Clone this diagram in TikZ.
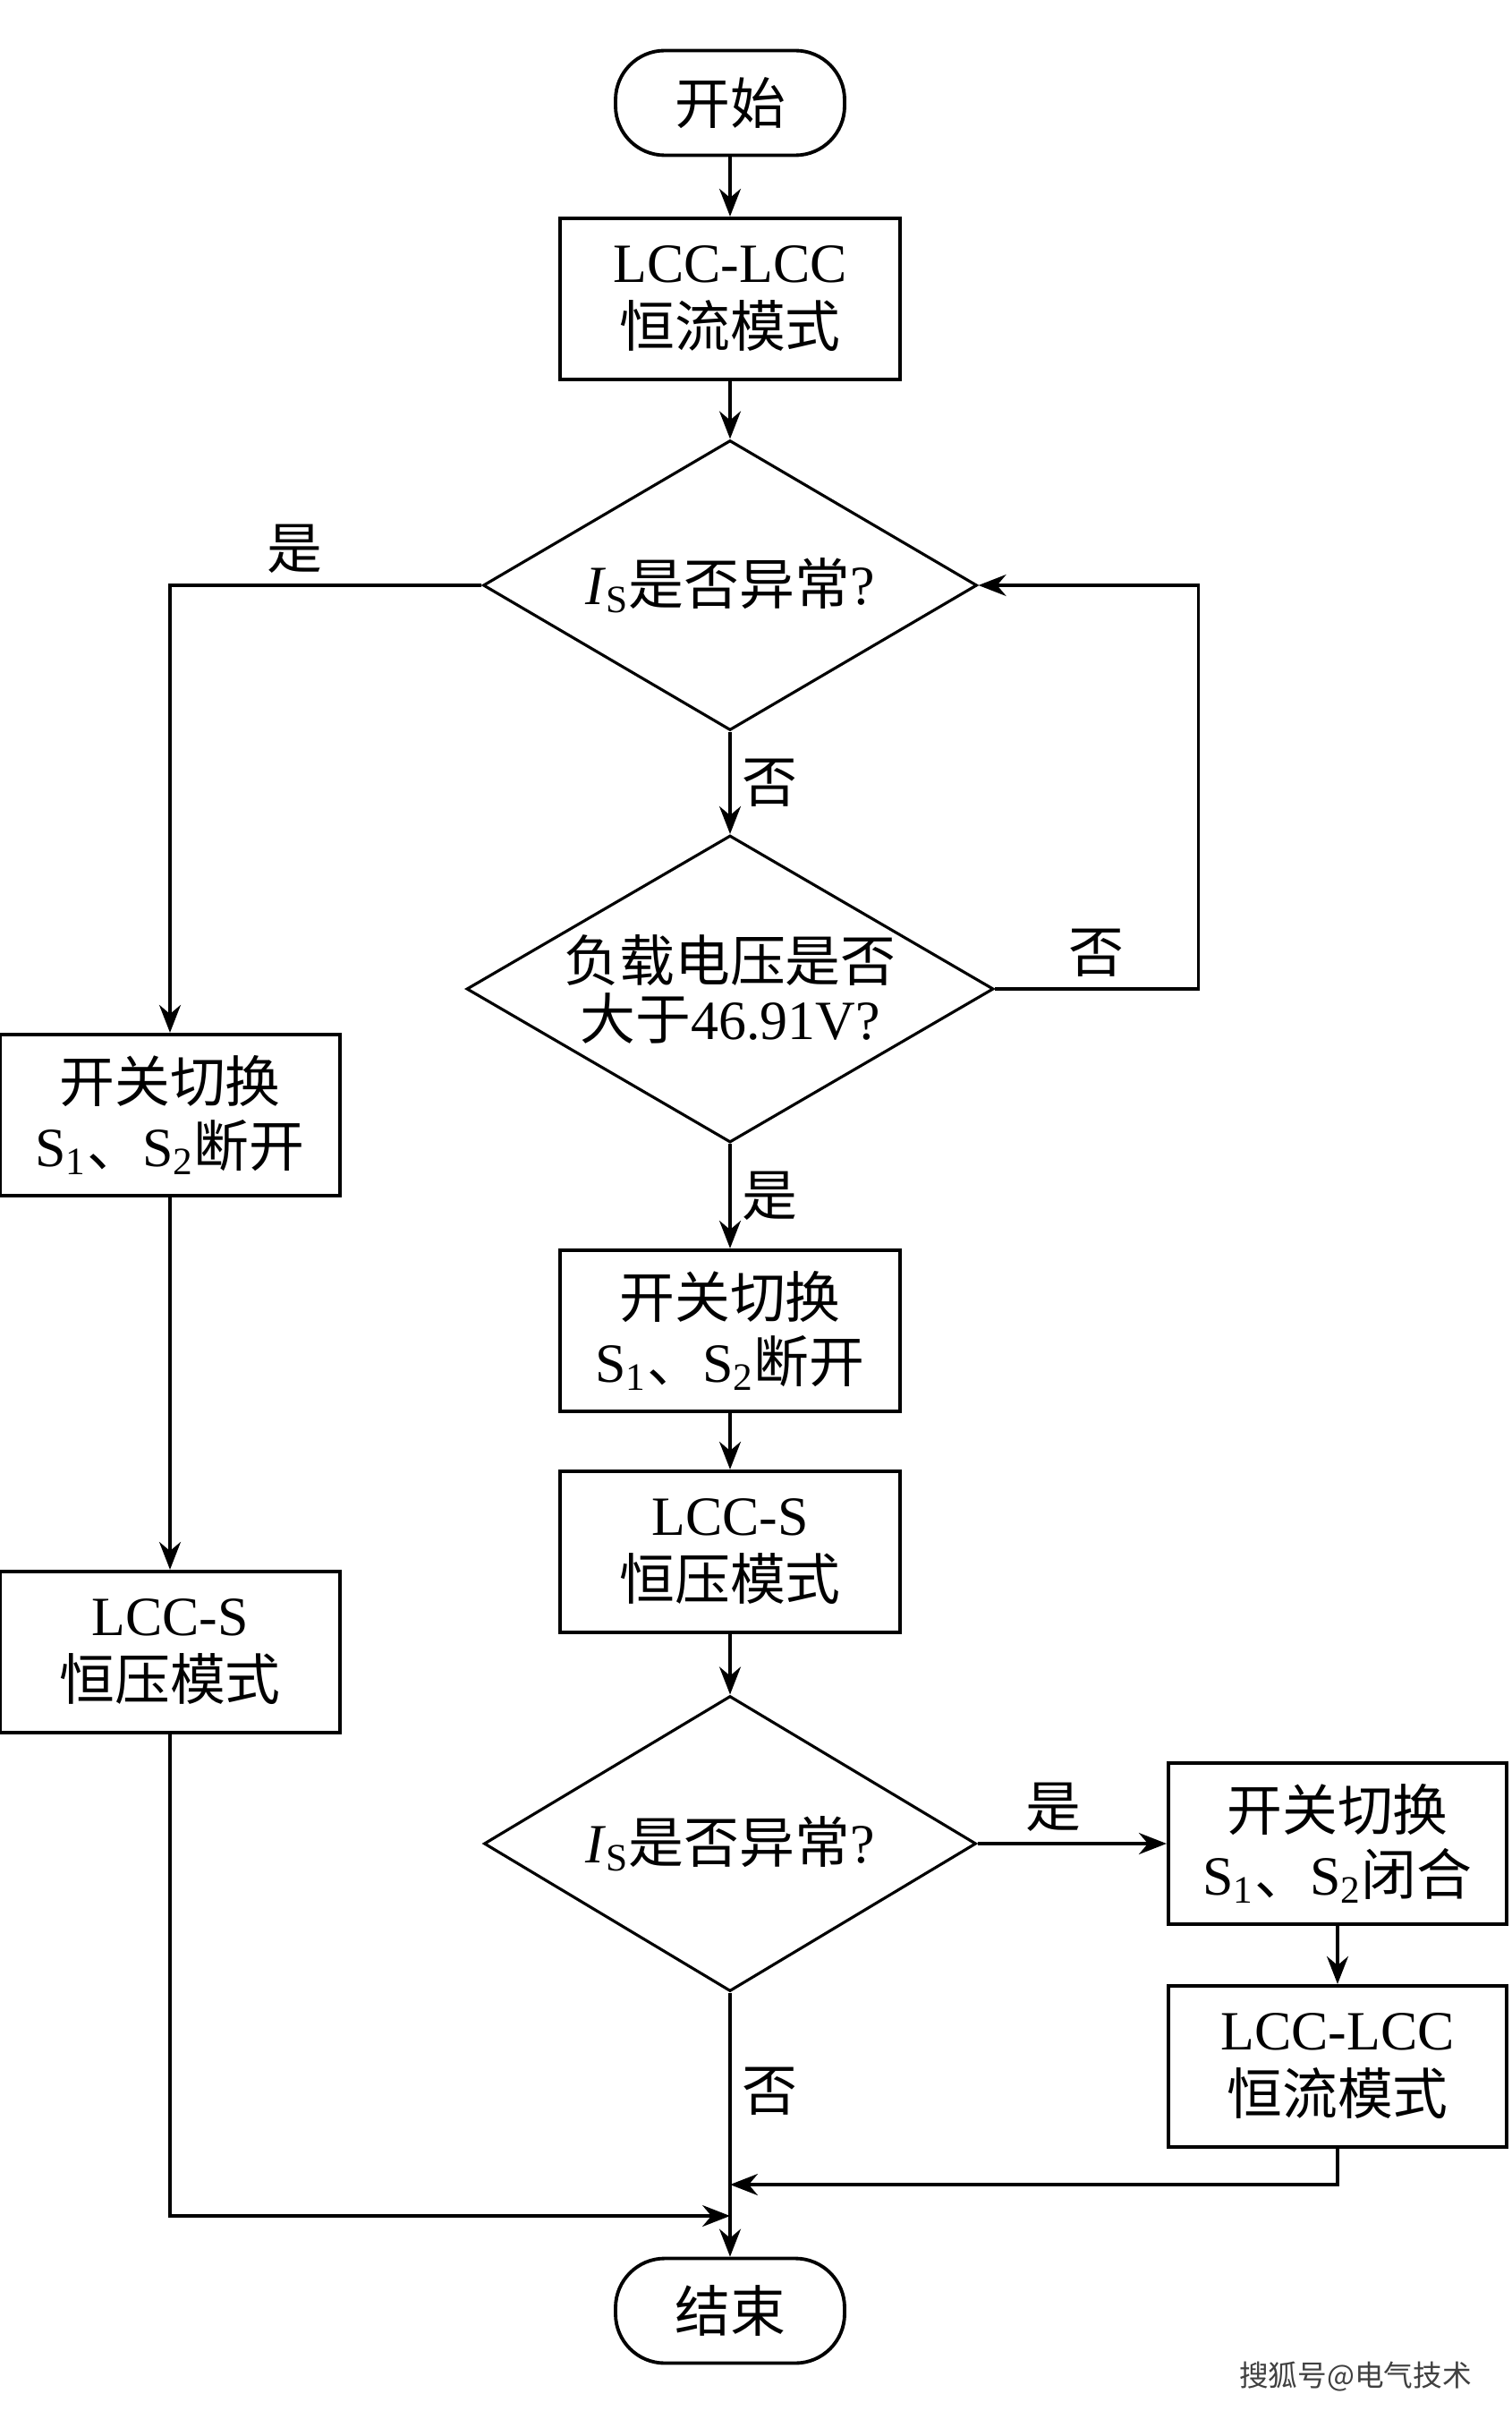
\documentclass[tikz,border=0pt]{standalone}
\usepackage{fontspec}
\setmainfont{Liberation Serif}
\newfontfamily\cjk{Noto Sans CJK SC}
\usepackage{tikz}
\usepackage{xcolor}
\usetikzlibrary{shapes, arrows, arrows.meta}

\begin{document}
\begin{tikzpicture}[node distance = 3cm, auto, font=\fontsize{17.6}{20.5}\selectfont]

\tikzstyle{startstop} = [rectangle, rounded corners=0.55cm, minimum width=2.56cm, minimum height=1.17cm, text centered, draw=black, line width=1.1pt]
\tikzstyle{process} = [rectangle, minimum width=3.8cm, minimum height=1.8cm, align=center, draw=black, line width=1.2pt]
\tikzstyle{decision} = [diamond, align=center, inner sep=0pt, draw=black, line width=0.9pt]
\tikzstyle{arrow} = [line width=0.9pt,->,>={Stealth[length=3.1mm,width=2.4mm]}]

\useasboundingbox (0,0) rectangle (16.89,-26.94);

\node (start) [startstop] at (8.16,-1.15) {\cjk 开始};
\node (lcc1) [process, below of=start, node distance=2.19cm] {LCC-LCC\\{\cjk 恒流模式}};
\node (dec1) [decision, below of=lcc1, node distance=3.20cm, minimum width=5.52cm, minimum height=3.24cm, shape aspect=1.7] {\textit{I}\textsubscript{S}{\cjk 是否异常}?};
\node (dec2) [decision, below of=dec1, node distance=4.51cm, minimum width=5.89cm, minimum height=3.43cm, shape aspect=1.72, font=\fontsize{17.6}{18.5}\selectfont] {{\cjk 负载电压是否}\\{\cjk 大于}46.91V?};
\node (sw1) [process, below of=dec2, node distance=3.82cm] {{\cjk 开关切换}\\S\textsubscript{1}{\cjk 、}S\textsubscript{2}{\cjk 断开}};
\node (lccs1) [process, below of=sw1, node distance=2.47cm] {LCC-S\\{\cjk 恒压模式}};
\node (dec3) [decision, below of=lccs1, node distance=3.26cm, minimum width=5.50cm, minimum height=3.30cm, shape aspect=1.67] {\textit{I}\textsubscript{S}{\cjk 是否异常}?};
\node (sw2) [process, right of=dec3, node distance=6.79cm, minimum width=3.78cm] {{\cjk 开关切换}\\S\textsubscript{1}{\cjk 、}S\textsubscript{2}{\cjk 闭合}};
\node (lcc2) [process, below of=sw2, node distance=2.49cm, minimum width=3.78cm] {LCC-LCC\\{\cjk 恒流模式}};
\node (end) [startstop, below of=dec3, node distance=5.22cm] {\cjk 结束};
\node (swl) [process, left of=dec1, node distance=6.26cm, yshift=-5.92cm] {{\cjk 开关切换}\\S\textsubscript{1}{\cjk 、}S\textsubscript{2}{\cjk 断开}};
\node (lccsl) [process, below of=swl, node distance=6.00cm] {LCC-S\\{\cjk 恒压模式}};

\coordinate (mergeA) at (8.16,-24.41);
\coordinate (mergeB) at (8.16,-24.76);

\draw [arrow] (start) -- (lcc1);
\draw [arrow] (lcc1) -- (dec1);
\draw [arrow] (dec1.west) -| node[pos=0.3, above] {\cjk 是} (swl.north);
\draw [arrow] (swl) -- (lccsl);
\draw [arrow] (dec1) -- node[right] {\cjk 否} (dec2);
\draw [arrow] (dec2.east) -- node[above] {\cjk 否} ++(2.27,0) |- (dec1.east);
\draw [arrow] (dec2) -- node[right] {\cjk 是} (sw1);
\draw [arrow] (sw1) -- (lccs1);
\draw [arrow] (lccs1) -- (dec3);
\draw [arrow] (dec3) -- node[above, pos=0.4] {\cjk 是} (sw2);
\draw [arrow] (sw2) -- (lcc2);
\draw [arrow] (dec3) -- node[right, pos=0.375] {\cjk 否} (end);
\draw [arrow] (lcc2.south) |- (mergeA);
\draw [arrow] (lccsl.south) |- (mergeB);

\node (mark) [text=black!75] at (15.15,-26.56) {\fontsize{9.3}{11}\selectfont\cjk 搜狐号@电气技术};
\end{tikzpicture}
\end{document}
